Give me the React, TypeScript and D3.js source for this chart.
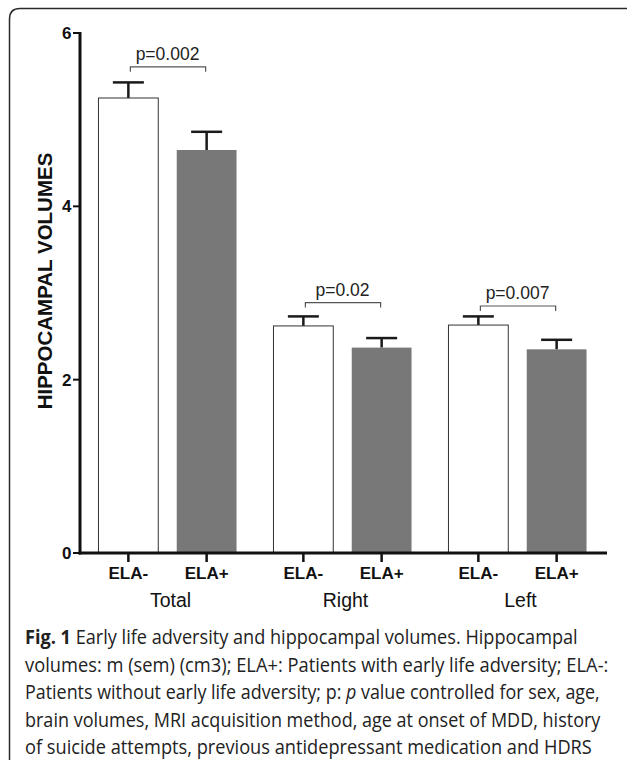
import React, { useEffect, useRef } from 'react';
import * as d3 from 'd3';

// hippocampal volumes, mean and sem (cm3)
const regions = ['Total', 'Right', 'Left'];
const groups = ['ELA-', 'ELA+'];
const meanVolumes = [
  [5.25, 4.65],
  [2.62, 2.37],
  [2.63, 2.35]
];
const semVolumes = [
  [0.18, 0.21],
  [0.11, 0.11],
  [0.1, 0.11]
];
const pLabels = ['p=0.002', 'p=0.02', 'p=0.007'];
const bracketLevels = [5.61, 2.89, 2.85];
const yTicks = [0, 2, 4, 6];
const captionLines = [
  'Early life adversity and hippocampal volumes. Hippocampal',
  'volumes: m (sem) (cm3); ELA+: Patients with early life adversity; ELA-:',
  'Patients without early life adversity; p: ',
  'brain volumes, MRI acquisition method, age at onset of MDD, history',
  'of suicide attempts, previous antidepressant medication and HDRS'
];
const captionWidths = [553, 584, 575, 576, 567];

const W = 627;
const H = 760;

const App = () => {
  const ref = useRef<SVGSVGElement>(null);

  useEffect(() => {
    const svg = d3.select(ref.current);
    svg.selectAll('*').remove();

    const pad = { left: 80, right: 22, top: 33, bottom: 553 };
    const chartFont = '"Liberation Sans", Arial, Helvetica, sans-serif';

    const x0 = d3.scaleBand<string>().domain(regions).range([pad.left, W - pad.right]).padding(0);
    const x1 = d3.scaleBand<string>().domain(groups).range([0, x0.bandwidth()]).padding(0.236);
    const y = d3.scaleLinear().domain([0, 6]).range([pad.bottom, pad.top]);
    const cx = (r: string, g: string) => x0(r)! + x1(g)! + x1.bandwidth() / 2;

    // frame
    svg
      .append('path')
      .attr('d', `M9.5,${H} V19 Q9.5,8.5 20,8.5 H${W}`)
      .attr('fill', 'none')
      .attr('stroke', '#2a2a2a')
      .attr('stroke-width', 1.5);

    // bars
    regions.forEach((r, i) => {
      groups.forEach((g, j) => {
        const m = meanVolumes[i][j];
        const s = semVolumes[i][j];
        const c = cx(r, g);
        const bw = x1.bandwidth();
        // error bar (upper half only)
        svg
          .append('line')
          .attr('x1', c)
          .attr('x2', c)
          .attr('y1', y(m))
          .attr('y2', y(m + s))
          .attr('stroke', '#1a1a1a')
          .attr('stroke-width', 2.5);
        svg
          .append('line')
          .attr('x1', c - 15.5)
          .attr('x2', c + 15.5)
          .attr('y1', y(m + s))
          .attr('y2', y(m + s))
          .attr('stroke', '#1a1a1a')
          .attr('stroke-width', 2.5);
        svg
          .append('rect')
          .attr('x', c - bw / 2)
          .attr('y', y(m))
          .attr('width', bw)
          .attr('height', y(0) - y(m))
          .attr('fill', j === 0 ? '#fff' : '#787878')
          .attr('stroke', j === 0 ? '#333' : 'none')
          .attr('stroke-width', 1);
      });

      // significance bracket
      const lvl = y(bracketLevels[i]);
      const xa = cx(r, groups[0]) + 2;
      const xb = cx(r, groups[1]) - 1;
      svg
        .append('path')
        .attr('d', `M${xa},${lvl + 5} V${lvl} H${xb} V${lvl + 5}`)
        .attr('fill', 'none')
        .attr('stroke', '#555')
        .attr('stroke-width', 1.2);
      svg
        .append('text')
        .attr('x', x0(r)! + x0.bandwidth() / 2)
        .attr('y', lvl - 7)
        .attr('text-anchor', 'middle')
        .attr('font-family', chartFont)
        .attr('font-size', 17.5)
        .attr('fill', '#222')
        .text(pLabels[i]);
    });

    // y axis
    svg
      .append('line')
      .attr('x1', pad.left)
      .attr('x2', pad.left)
      .attr('y1', y(0) + 1.5)
      .attr('y2', y(6) - 1)
      .attr('stroke', '#111')
      .attr('stroke-width', 3);
    yTicks.forEach((t) => {
      svg
        .append('line')
        .attr('x1', pad.left - 7)
        .attr('x2', pad.left)
        .attr('y1', y(t))
        .attr('y2', y(t))
        .attr('stroke', '#111')
        .attr('stroke-width', 2);
      svg
        .append('text')
        .attr('x', pad.left - 8.5)
        .attr('y', y(t))
        .attr('dy', '0.36em')
        .attr('text-anchor', 'end')
        .attr('font-family', chartFont)
        .attr('font-weight', 'bold')
        .attr('font-size', 17)
        .attr('fill', '#111')
        .text(t);
    });
    svg
      .append('text')
      .attr('transform', `translate(52,${(y(0) + y(6)) / 2 - 12}) rotate(-90)`)
      .attr('text-anchor', 'middle')
      .attr('font-family', chartFont)
      .attr('font-weight', 'bold')
      .attr('font-size', 20.5)
      .attr('fill', '#111')
      .text('HIPPOCAMPAL VOLUMES');

    // x axis
    svg
      .append('line')
      .attr('x1', pad.left - 1.5)
      .attr('x2', W - pad.right + 2)
      .attr('y1', y(0))
      .attr('y2', y(0))
      .attr('stroke', '#111')
      .attr('stroke-width', 3);
    regions.forEach((r) => {
      groups.forEach((g) => {
        const c = cx(r, g);
        svg
          .append('line')
          .attr('x1', c)
          .attr('x2', c)
          .attr('y1', y(0))
          .attr('y2', y(0) + 9)
          .attr('stroke', '#111')
          .attr('stroke-width', 2.5);
        svg
          .append('text')
          .attr('x', c)
          .attr('y', y(0) + 26)
          .attr('text-anchor', 'middle')
          .attr('font-family', chartFont)
          .attr('font-weight', 'bold')
          .attr('font-size', 17)
          .attr('fill', '#111')
          .text(g);
      });
      svg
        .append('text')
        .attr('x', x0(r)! + x0.bandwidth() / 2 + 3)
        .attr('y', y(0) + 54)
        .attr('text-anchor', 'middle')
        .attr('font-family', chartFont)
        .attr('font-size', 19.5)
        .attr('fill', '#111')
        .text(r);
    });

    // caption: each line squeezed horizontally to the width it has in the figure
    const capFont = '"Open Sans", "Noto Sans", sans-serif';
    captionLines.forEach((line, i) => {
      const t = svg
        .append('text')
        .attr('x', 0)
        .attr('y', 0)
        .attr('font-family', capFont)
        .attr('font-size', 20)
        .attr('fill', '#222');
      if (i === 0) {
        t.append('tspan').attr('font-weight', 'bold').text('Fig. 1 ');
      }
      t.append('tspan').text(line);
      if (i === 2) {
        t.append('tspan').attr('font-style', 'italic').text('p');
        t.append('tspan').text(' value controlled for sex, age,');
      }
      const natural = (t.node() as SVGTextElement).getComputedTextLength() || captionWidths[i];
      const sx = captionWidths[i] / natural;
      t.attr('transform', `translate(25,${644 + i * 27.5}) scale(${sx},1)`);
    });
  }, []);

  return (
    <svg
      ref={ref}
      width={W}
      height={H}
      style={{ position: 'absolute', left: 0, top: 0, background: '#fff' }}
    />
  );
};

export default App;
